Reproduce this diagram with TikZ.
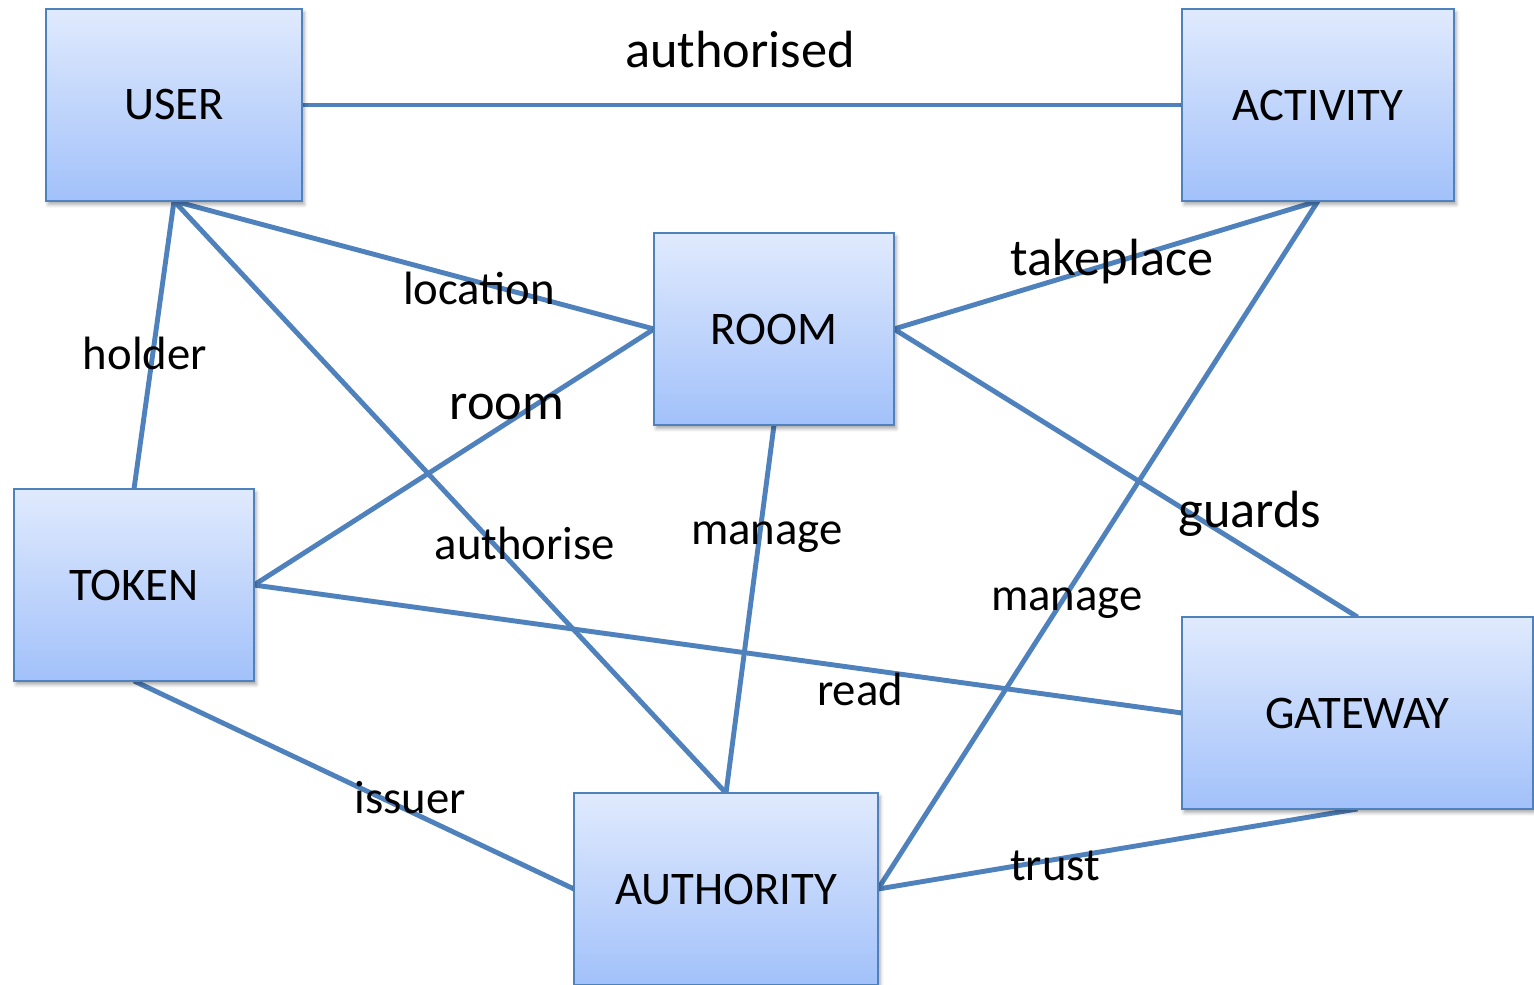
\documentclass[tikz,border=0pt]{standalone}
\usepackage{fontspec}
\setmainfont{Carlito}
\usetikzlibrary{backgrounds,shadows.blur}

\definecolor{edgeblue}{HTML}{4F81BD}
\definecolor{boxtop}{HTML}{E0EAFD}
\definecolor{boxbottom}{HTML}{A2C1FA}

\tikzset{
  entity/.style={
    rectangle, draw=edgeblue, line width=1.1pt,
    top color=boxtop, bottom color=boxbottom,
    inner sep=0pt, outer sep=0pt,
    minimum height=3.84cm,
    font=\fontsize{26.6}{32}\selectfont,
    blur shadow={shadow xshift=1.2pt, shadow yshift=-2pt,
                 shadow blur radius=2pt, shadow opacity=35}
  },
  link/.style={draw=edgeblue, line width=2.8pt},
  rel/.style={anchor=base, inner sep=0pt, font=\fontsize{26.6}{32}\selectfont},
  bigrel/.style={anchor=base, inner sep=0pt, font=\fontsize{29.8}{36}\selectfont}
}

\begin{document}
\begin{tikzpicture}[x=0.02cm, y=-0.02cm]
  \useasboundingbox (0,0) rectangle (1534,984);
  \clip (0,0) rectangle (1534,984);

  % entities
  \node[entity, minimum width=5.12cm] (user)      at (174,105)    {USER};
  \node[entity, minimum width=5.44cm] (activity)  at (1318,105)   {ACTIVITY};
  \node[entity, minimum width=4.80cm] (room)      at (774,329)    {ROOM};
  \node[entity, minimum width=4.80cm] (token)     at (134,585)    {TOKEN};
  \node[entity, minimum width=7.02cm] (gateway)   at (1357.5,713) {GATEWAY};
  \node[entity, minimum width=6.08cm] (authority) at (726,889)    {AUTHORITY};

  % relationships
  \begin{scope}[on background layer]
    \draw[link] (user.east)      -- (activity.west);
    \draw[link] (user.south)     -- (token.north);
    \draw[link] (user.south)     -- (room.west);
    \draw[link] (user.south)     -- (authority.north);
    \draw[link] (room.west)      -- (token.east);
    \draw[link] (room.south)     -- (authority.north);
    \draw[link] (room.east)      -- (activity.south);
    \draw[link] (room.east)      -- (gateway.north);
    \draw[link] (activity.south) -- (authority.east);
    \draw[link] (token.east)     -- (gateway.west);
    \draw[link] (token.south)    -- (authority.west);
    \draw[link] (authority.east) -- (gateway.south);
  \end{scope}

  % relationship labels
  \node[bigrel] (l-authorised) at (740,67)  {authorised};
  \node[rel]    (l-location)   at (479,304) {location};
  \node[rel]    (l-holder)     at (145,369) {holder};
  \node[bigrel] (l-room)       at (507,419) {room};
  \node[rel]    (l-authorise)  at (525,559) {authorise};
  \node[rel]    (l-manage1)    at (767,544) {manage};
  \node[bigrel] (l-takeplace)  at (1112,275) {takeplace};
  \node[bigrel] (l-guards)     at (1250,527) {guards};
  \node[rel]    (l-manage2)    at (1067,610) {manage};
  \node[rel]    (l-read)       at (860,705) {read};
  \node[rel]    (l-issuer)     at (410,813) {issuer};
  \node[rel]    (l-trust)      at (1055,880) {trust};
\end{tikzpicture}
\end{document}
